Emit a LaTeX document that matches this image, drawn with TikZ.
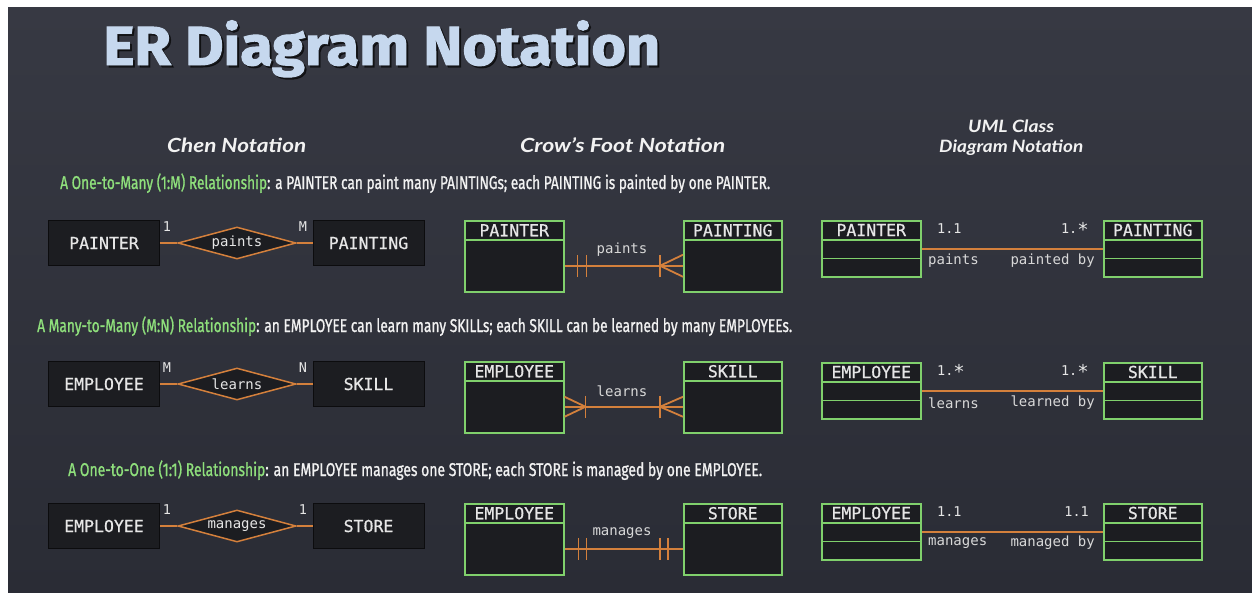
\documentclass[tikz,border=0pt]{standalone}
\usepackage{graphicx}
\usepackage{fontspec}
\setmainfont{Liberation Sans}
\setmonofont{DejaVu Sans Mono}
\newfontfamily\entfont{DejaVu Sans Mono}[FakeBold=0.7]
\newfontfamily\titlefont{Fira Sans}[BoldFeatures={FakeBold=1.8}]
\newfontfamily\headfont{Lato}
\newfontfamily\relfont{Fira Sans}[FakeBold=1.2]
\usetikzlibrary{shapes.geometric,calc}

\definecolor{bgA}{HTML}{373943}
\definecolor{bgB}{HTML}{2A2C35}
\definecolor{boxfill}{HTML}{1C1D21}
\definecolor{boxline}{HTML}{0C0C0E}
\definecolor{grn}{HTML}{80D06C}
\definecolor{org}{HTML}{D4803C}
\definecolor{txt}{HTML}{E6E6E6}
\definecolor{lbltxt}{HTML}{D8D8D8}
\definecolor{ttl}{HTML}{C6D8EE}
\definecolor{lgrn}{HTML}{8FE07C}
\definecolor{headc}{HTML}{F2F2F2}

\newlength\fitlen
\newcommand\fitw[2]{\settowidth\fitlen{#2}\pgfmathsetmacro\fitfac{#1/\fitlen}\scalebox{\fitfac}[1]{#2}}
\newcommand\bigast{\raisebox{-2.5pt}{\fontsize{19}{19}\selectfont *}}

\tikzset{
  chenbox/.style={draw=boxline, line width=0.8pt, fill=boxfill, minimum width=111pt,
    minimum height=45pt, inner sep=0pt, text=txt,
    font=\fontsize{16.5}{17}\selectfont\entfont},
  relbox/.style={diamond, aspect=3.7, draw=org, line width=1.5pt, fill=boxfill,
    minimum width=118pt, minimum height=32pt, inner sep=0pt, text=txt,
    font=\fontsize{14}{14}\selectfont\ttfamily},
  card/.style={text=txt, inner sep=0pt, font=\fontsize{13.5}{14}\selectfont\ttfamily},
  lbl/.style={text=lbltxt, inner sep=0pt, font=\fontsize{14}{14}\selectfont\ttfamily},
  conn/.style={draw=org, line width=1.8pt},
  cfhead/.style={draw=grn, line width=1.5pt, fill=boxfill, minimum height=19pt,
    inner sep=0pt, anchor=north west, text=txt,
    font=\fontsize{16.5}{17}\selectfont\entfont},
  cfbody/.style={draw=grn, line width=1.5pt, fill=boxfill, minimum height=52pt,
    inner sep=0pt, anchor=north west},
  umlcomp/.style={draw=grn, line width=1.5pt, fill=boxfill, minimum height=18.5pt,
    inner sep=0pt, anchor=north west, text=txt,
    font=\fontsize{16.5}{17}\selectfont\entfont},
  heading/.style={text=headc, inner sep=0pt, anchor=base west},
  relline/.style={text=headc, inner sep=0pt, anchor=base west},
}

\begin{document}
\begin{tikzpicture}[x=1pt,y=-1pt]
\useasboundingbox (0,0) rectangle (1252,592);
\fill[white] (0,0) rectangle (1252,592);
\shade[top color=bgA, bottom color=bgB] (8,7) rectangle (1252,592);

% ---------- title ----------
\node[anchor=base west, inner sep=0pt, text=black, opacity=0.55] (titleshadow) at (105,67)
  {\fitw{557}{\fontsize{55}{55}\selectfont\titlefont\bfseries ER Diagram Notation}};
\node[anchor=base west, inner sep=0pt, text=ttl] (title) at (103,65)
  {\fitw{557}{\fontsize{55}{55}\selectfont\titlefont\bfseries ER Diagram Notation}};

% ---------- headings ----------
\node[heading] (hchen) at (167,152)
  {\fitw{139}{\fontsize{19.5}{20}\selectfont\headfont\bfseries\itshape Chen Notation}};
\node[heading] (hcrow) at (520,152)
  {\fitw{205}{\fontsize{19.5}{20}\selectfont\headfont\bfseries\itshape Crow’s Foot Notation}};
\node[heading] (huml1) at (968,132)
  {\fitw{86}{\fontsize{17}{17}\selectfont\headfont\bfseries\itshape UML Class}};
\node[heading] (huml2) at (939,152)
  {\fitw{144}{\fontsize{17}{17}\selectfont\headfont\bfseries\itshape Diagram Notation}};

% ---------- relationship descriptions ----------
\node[relline] (rel1) at (60,189)
  {\fitw{710}{\fontsize{18.5}{19}\selectfont\relfont{\color{lgrn}A One-to-Many (1:M) Relationship}: a PAINTER can paint many PAINTINGs; each PAINTING is painted by one PAINTER.}};
\node[relline] (rel2) at (37,332)
  {\fitw{755}{\fontsize{18.5}{19}\selectfont\relfont{\color{lgrn}A Many-to-Many (M:N) Relationship}: an EMPLOYEE can learn many SKILLs; each SKILL can be learned by many EMPLOYEEs.}};
\node[relline] (rel3) at (68,476)
  {\fitw{694}{\fontsize{18.5}{19}\selectfont\relfont{\color{lgrn}A One-to-One (1:1) Relationship}: an EMPLOYEE manages one STORE; each STORE is managed by one EMPLOYEE.}};

% ---------- Chen notation ----------
% row 1
\node[chenbox] (c1l) at (104,243) {PAINTER};
\node[relbox]  (c1d) at (237,243) {paints};
\node[chenbox] (c1r) at (368.5,243) {PAINTING};
\draw[conn] (c1l) -- (c1d);
\draw[conn] (c1d) -- (c1r);
\node[card] (c1a) at (167,227) {1};
\node[card] (c1b) at (303,227) {M};
% row 2
\node[chenbox] (c2l) at (104,384) {EMPLOYEE};
\node[relbox]  (c2d) at (237,384) {learns};
\node[chenbox] (c2r) at (368.5,384) {SKILL};
\draw[conn] (c2l) -- (c2d);
\draw[conn] (c2d) -- (c2r);
\node[card] (c2a) at (167,368) {M};
\node[card] (c2b) at (303,368) {N};
% row 3
\node[chenbox] (c3l) at (104,526) {EMPLOYEE};
\node[relbox]  (c3d) at (237,526) {manages};
\node[chenbox] (c3r) at (368.5,526) {STORE};
\draw[conn] (c3l) -- (c3d);
\draw[conn] (c3d) -- (c3r);
\node[card] (c3a) at (167,510) {1};
\node[card] (c3b) at (303,510) {1};

% ---------- Crow's foot notation ----------
% row 1
\node[cfhead, minimum width=99pt] (f1lh) at (464,220) {PAINTER};
\node[cfbody, minimum width=99pt] (f1lb) at (464,239) {};
\node[cfhead, minimum width=98pt] (f1rh) at (683,220) {PAINTING};
\node[cfbody, minimum width=98pt] (f1rb) at (683,239) {};
\draw[conn] (f1lb) -- (f1rb);
\draw[conn] ([xshift=13pt,yshift=11pt]f1lb.east) -- ([xshift=13pt,yshift=-11pt]f1lb.east);
\draw[conn] ([xshift=22pt,yshift=11pt]f1lb.east) -- ([xshift=22pt,yshift=-11pt]f1lb.east);
\draw[conn] ([xshift=-23pt,yshift=11pt]f1rb.west) -- ([xshift=-23pt,yshift=-11pt]f1rb.west);
\draw[conn] ([yshift=11pt]f1rb.west) -- ([xshift=-23pt]f1rb.west) -- ([yshift=-11pt]f1rb.west);
\node[lbl] (f1t) at (622,250) {paints};
% row 2
\node[cfhead, minimum width=99pt] (f2lh) at (464,361) {EMPLOYEE};
\node[cfbody, minimum width=99pt] (f2lb) at (464,380) {};
\node[cfhead, minimum width=98pt] (f2rh) at (683,361) {SKILL};
\node[cfbody, minimum width=98pt] (f2rb) at (683,380) {};
\draw[conn] (f2lb) -- (f2rb);
\draw[conn] ([xshift=21pt,yshift=11pt]f2lb.east) -- ([xshift=21pt,yshift=-11pt]f2lb.east);
\draw[conn] ([yshift=10pt]f2lb.east) -- ([xshift=21pt]f2lb.east) -- ([yshift=-10pt]f2lb.east);
\draw[conn] ([xshift=-23pt,yshift=11pt]f2rb.west) -- ([xshift=-23pt,yshift=-11pt]f2rb.west);
\draw[conn] ([yshift=10pt]f2rb.west) -- ([xshift=-23pt]f2rb.west) -- ([yshift=-10pt]f2rb.west);
\node[lbl] (f2t) at (622,391) {learns};
% row 3
\node[cfhead, minimum width=99pt] (f3lh) at (464,503) {EMPLOYEE};
\node[cfbody, minimum width=99pt] (f3lb) at (464,522) {};
\node[cfhead, minimum width=98pt] (f3rh) at (683,503) {STORE};
\node[cfbody, minimum width=98pt] (f3rb) at (683,522) {};
\draw[conn] (f3lb) -- (f3rb);
\draw[conn] ([xshift=14pt,yshift=11pt]f3lb.east) -- ([xshift=14pt,yshift=-11pt]f3lb.east);
\draw[conn] ([xshift=22pt,yshift=11pt]f3lb.east) -- ([xshift=22pt,yshift=-11pt]f3lb.east);
\draw[conn] ([xshift=-23pt,yshift=11pt]f3rb.west) -- ([xshift=-23pt,yshift=-11pt]f3rb.west);
\draw[conn] ([xshift=-15pt,yshift=11pt]f3rb.west) -- ([xshift=-15pt,yshift=-11pt]f3rb.west);
\node[lbl] (f3t) at (622,533) {manages};

% ---------- UML class diagram notation ----------
% row 1
\node[umlcomp, minimum width=99pt] (u1la) at (821,220) {PAINTER};
\node[umlcomp, minimum width=99pt] (u1lb) at (821,239) {};
\node[umlcomp, minimum width=99pt] (u1lc) at (821,257.5) {};
\node[umlcomp, minimum width=98pt] (u1ra) at (1103,220) {PAINTING};
\node[umlcomp, minimum width=98pt] (u1rb) at (1103,239) {};
\node[umlcomp, minimum width=98pt] (u1rc) at (1103,257.5) {};
\draw[conn] (u1lb) -- (u1rb);
\node[card, anchor=west] (u1m1) at (937,229) {1.1};
\node[card, anchor=east] (u1m2) at (1089,229) {1.\bigast};
\node[lbl, anchor=west] (u1r1) at (928,261) {paints};
\node[lbl, anchor=east] (u1r2) at (1095,261) {painted by};
% row 2
\node[umlcomp, minimum width=99pt] (u2la) at (821,362) {EMPLOYEE};
\node[umlcomp, minimum width=99pt] (u2lb) at (821,381) {};
\node[umlcomp, minimum width=99pt] (u2lc) at (821,399.5) {};
\node[umlcomp, minimum width=98pt] (u2ra) at (1103,362) {SKILL};
\node[umlcomp, minimum width=98pt] (u2rb) at (1103,381) {};
\node[umlcomp, minimum width=98pt] (u2rc) at (1103,399.5) {};
\draw[conn] (u2lb) -- (u2rb);
\node[card, anchor=west] (u2m1) at (937,371) {1.\bigast};
\node[card, anchor=east] (u2m2) at (1089,371) {1.\bigast};
\node[lbl, anchor=west] (u2r1) at (928,403) {learns};
\node[lbl, anchor=east] (u2r2) at (1095,403) {learned by};
% row 3
\node[umlcomp, minimum width=99pt] (u3la) at (821,503) {EMPLOYEE};
\node[umlcomp, minimum width=99pt] (u3lb) at (821,522) {};
\node[umlcomp, minimum width=99pt] (u3lc) at (821,540.5) {};
\node[umlcomp, minimum width=98pt] (u3ra) at (1103,503) {STORE};
\node[umlcomp, minimum width=98pt] (u3rb) at (1103,522) {};
\node[umlcomp, minimum width=98pt] (u3rc) at (1103,540.5) {};
\draw[conn] (u3lb) -- (u3rb);
\node[card, anchor=west] (u3m1) at (937,512) {1.1};
\node[card, anchor=east] (u3m2) at (1089,512) {1.1};
\node[lbl, anchor=west] (u3r1) at (928,543) {manages};
\node[lbl, anchor=east] (u3r2) at (1095,543) {managed by};
\end{tikzpicture}
\end{document}
